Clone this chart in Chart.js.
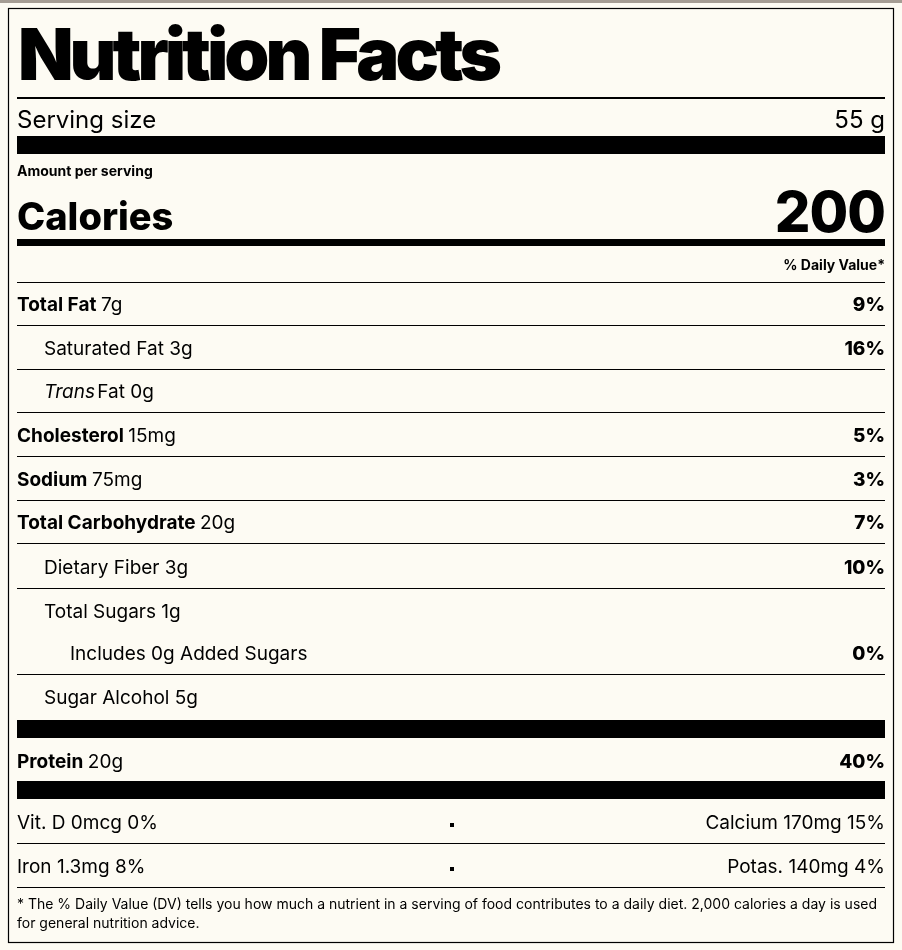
<!DOCTYPE html>
<html><head><meta charset="utf-8">
<script src="https://cdn.jsdelivr.net/npm/chart.js@4"></script>
<style>html,body{margin:0;padding:0;background:#fdfbf3;}#wrap{position:relative;width:902px;height:950px;}</style>
</head><body><div id="wrap"><canvas id="c" width="902" height="950"></canvas></div>
<script>
const title = "Nutrition Facts";
const servingSize = "55 g";
const calories = "200";
const nutrients = ["Total Fat","Saturated Fat","Trans Fat","Cholesterol","Sodium","Total Carbohydrate","Dietary Fiber","Total Sugars","Includes 0g Added Sugars","Sugar Alcohol"];
const amounts = ["7g","3g","0g","15mg","75mg","20g","3g","1g","",""+"5g"];
const dailyValues = ["9%","16%","","5%","3%","7%","10%","","0%",""];
const protein = ["Protein","20g","40%"];
const vitaminsLeft = ["Vit. D 0mcg 0%","Iron 1.3mg 8%"];
const vitaminsRight = ["Calcium 170mg 15%","Potas. 140mg 4%"];
const footnote = ["* The % Daily Value (DV) tells you how much a nutrient in a serving of food contributes to a daily diet. 2,000 calories a day is used","for general nutrition advice."];

const bolds=[true,false,false,true,true,true,false,false,false,false];
const indents=[0,27,27,0,0,0,27,27,53,27];
const rowY=[304,348,391,435,479,522,567,611,653,697];
const lineAfter=[true,true,true,true,true,true,true,false,true,false];
const F='Inter, "Noto Sans", sans-serif';
const L=17,R=885;

const labelPlugin={id:'label',afterDraw(chart){
 const c=chart.ctx; c.save();
 c.fillStyle='#fdfbf3';c.fillRect(0,0,902,950);
 c.fillStyle='#a59d94';c.fillRect(0,0,902,3);
 c.strokeStyle='#000';c.lineWidth=1.2;c.strokeRect(8.5,8.5,885,934);
 c.fillStyle='#000';c.textBaseline='alphabetic';
 // title
 c.font='900 72px '+F; c.letterSpacing='-4px';
 let w=c.measureText(title).width; c.save(); c.translate(18,80); c.scale(480/w,1); c.fillText(title,0,0); c.restore();
 c.letterSpacing='0px';
 const hl=(y,h,x0=L,x1=R)=>c.fillRect(x0,y,x1-x0,h);
 hl(97,2);
 c.font='400 24px '+F; c.textAlign='left'; c.fillText("Serving size",17,128);
 c.textAlign='right'; c.fillText(servingSize,R,128);
 hl(136,18);
 c.textAlign='left'; c.font='700 14px '+F; c.fillText("Amount per serving",17,176);
 c.font='800 38px '+F; c.fillText("Calories",17,230);
 c.textAlign='right'; c.font='800 56px '+F; c.letterSpacing='-1px'; c.fillText(calories,R,232); c.letterSpacing='0px';
 hl(239,7);
 c.font='700 14px '+F; c.fillText("% Daily Value*",R,270);
 hl(282,1);
 nutrients.forEach((n,i)=>{
  const y=rowY[i]+7, x=17+indents[i];
  c.textAlign='left';
  let tx=x;
  if(n==="Trans Fat"){c.font='italic 400 19px '+F;c.fillText("Trans",tx,y);tx+=c.measureText("Trans ").width-3;c.font='400 19px '+F;c.fillText("Fat",tx,y);tx+=c.measureText("Fat ").width;}
  else{c.font=(bolds[i]?'700':'400')+' 19px '+F;c.fillText(n,tx,y);tx+=c.measureText(n+" ").width;}
  c.font='400 19px '+F; if(amounts[i]) c.fillText(amounts[i],tx,y);
  if(dailyValues[i]){c.textAlign='right';c.font='800 19px '+F;c.fillText(dailyValues[i],R,y);}
  if(lineAfter[i]) hl(rowY[i]+21,1);
 });
 hl(720,18);
 c.textAlign='left'; c.font='700 19px '+F; c.fillText(protein[0],17,768);
 let pw=c.measureText(protein[0]+" ").width; c.font='400 19px '+F; c.fillText(protein[1],17+pw,768);
 c.textAlign='right'; c.font='800 19px '+F; c.fillText(protein[2],R,768);
 hl(781,18);
 [829,873].forEach((y,i)=>{
  c.font='400 19px '+F; c.textAlign='left'; c.fillText(vitaminsLeft[i],17,y);
  c.textAlign='right'; c.fillText(vitaminsRight[i],R,y);
  c.fillRect(450,y-6,4,4);
  hl(y+14,1);
 });
 c.textAlign='left'; c.font='400 14px '+F;
 c.fillText(footnote[0],17,909); c.fillText(footnote[1],17,928);
 c.restore();
}};
new Chart(document.getElementById('c'),{type:'bar',data:{labels:[''],datasets:[{data:[0]}]},
 options:{responsive:false,animation:false,events:[],plugins:{legend:{display:false},tooltip:{enabled:false}},
 scales:{x:{display:false},y:{display:false}}},plugins:[labelPlugin]});
</script></body></html>
